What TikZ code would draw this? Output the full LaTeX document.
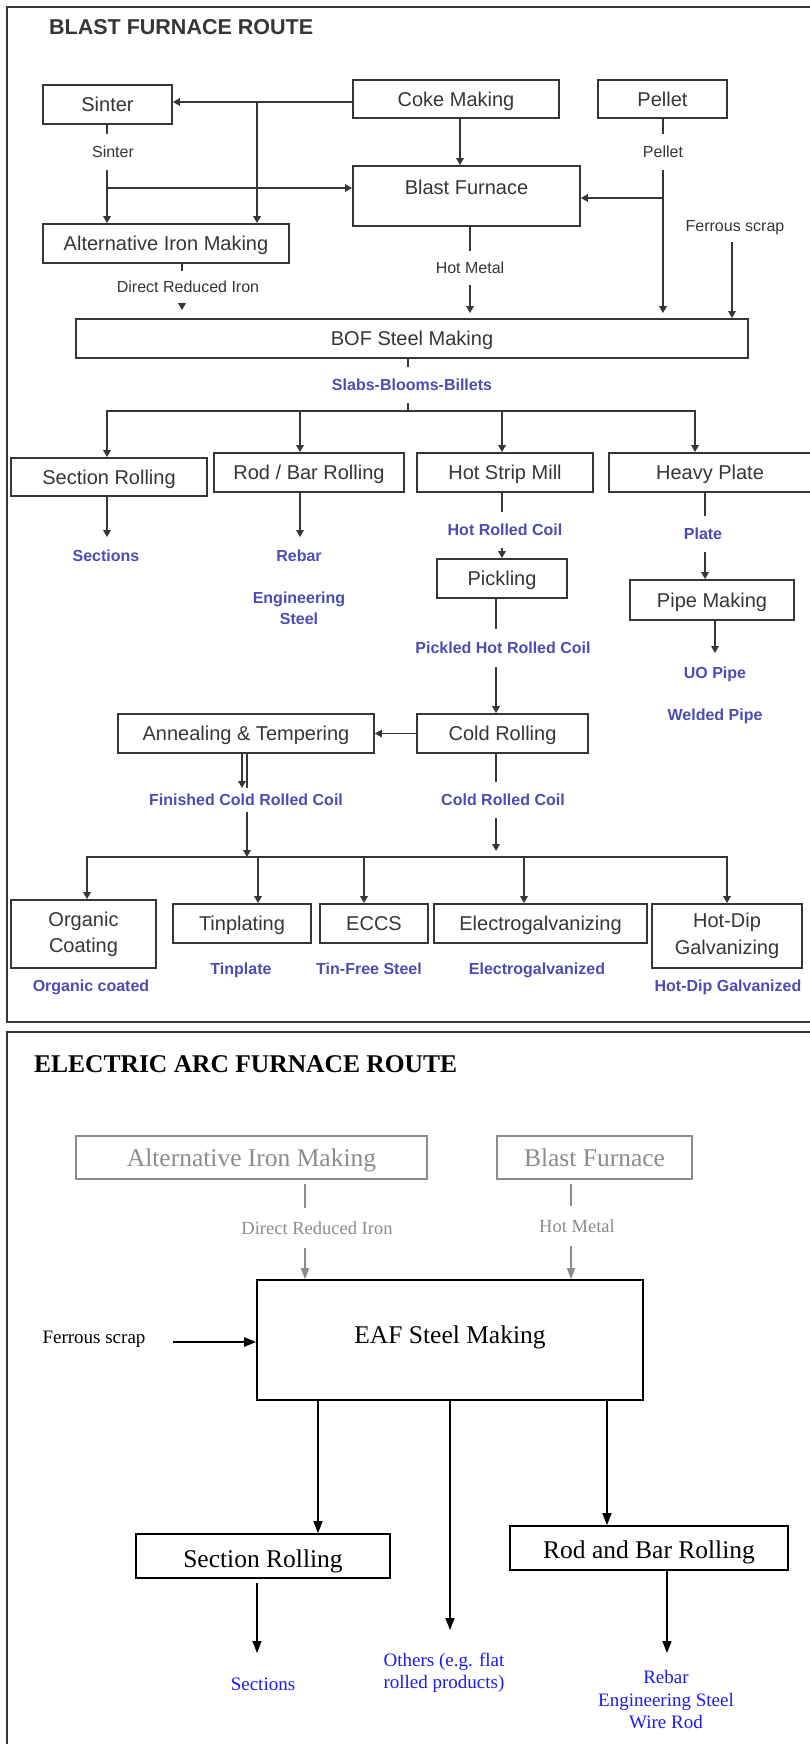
\documentclass[tikz,border=0pt]{standalone}
\usepackage{fontspec}
\setmainfont{Liberation Serif}
\newfontfamily\arialf{Liberation Sans}
\usetikzlibrary{arrows.meta}

\definecolor{ink}{HTML}{363636}
\definecolor{prod}{RGB}{76,76,178}
\definecolor{faded}{HTML}{8C8C8C}
\definecolor{prodblue}{RGB}{28,28,235}

\begin{document}
\begin{tikzpicture}[x=1pt,y=-1pt,
  % blast furnace route (sans serif)
  panel/.style={draw=ink, line width=1.8pt},
  bfbox/.style={draw=ink, line width=1.8pt, text=ink, inner sep=0pt, align=center,
    font=\arialf\fontsize{20}{26}\selectfont},
  bfone/.style={bfbox, text height=14.3pt, text depth=0pt},
  bfline/.style={draw=ink, line width=1.6pt},
  bfarr/.style={bfline, -{Triangle[length=7pt,width=7.5pt]}},
  bfboth/.style={bfline, {Triangle[length=7pt,width=7.5pt]}-{Triangle[length=7pt,width=7.5pt]}},
  bflbl/.style={fill=white, text=ink, inner xsep=1pt, inner ysep=#1,
    text height=11.5pt, text depth=0pt, font=\arialf\fontsize{16}{19}\selectfont},
  bflbl/.default=0pt,
  prodlbl/.style={fill=white, text=prod, inner xsep=1pt, inner ysep=#1,
    text height=11.5pt, text depth=0pt, font=\arialf\bfseries\fontsize{16}{21}\selectfont},
  prodlbl/.default=0pt,
  prodmulti/.style={text=prod, inner sep=0pt, align=center,
    font=\arialf\bfseries\fontsize{16}{21}\selectfont},
  % electric arc furnace route (serif)
  eafbox/.style={draw=black, line width=1.6pt, inner sep=0pt,
    font=\fontsize{25.5}{30}\selectfont, text height=17pt, text depth=0pt},
  fadedbox/.style={draw=faded, line width=1.2pt, text=faded, inner sep=0pt,
    font=\fontsize{25.5}{30}\selectfont, text height=17pt, text depth=0pt},
  fadedarr/.style={draw=faded, line width=1.3pt, -{Triangle[length=11pt,width=8pt]}},
  fadedlbl/.style={fill=white, text=faded, inner xsep=1pt, inner ysep=#1,
    font=\fontsize{18.5}{22}\selectfont, text height=12.2pt, text depth=0pt},
  fadedlbl/.default=0pt,
  eafarr/.style={draw=black, line width=1.6pt, -{Triangle[length=12pt,width=9pt]}},
  prodb/.style={text=prodblue, inner sep=0pt, align=center, font=\fontsize{19}{22.5}\selectfont},
  prodbone/.style={prodb, text height=12.6pt, text depth=0pt}
]
\useasboundingbox (0,0) rectangle (810,1744);
\fill[white] (0,0) rectangle (810,1744);

%% ---------------- Blast furnace route ----------------
\draw[panel] (7,7) rectangle (822,1022);
\node[anchor=west, text=ink, inner sep=0pt, text height=15.4pt, text depth=0pt,
  font=\arialf\bfseries\fontsize{21.5}{26}\selectfont] (bftitle) at (49,26.5) {BLAST FURNACE ROUTE};

% process boxes
\node[bfone, minimum width=129pt, minimum height=39pt] (sinter) at (107.5,104.5) {Sinter};
\node[bfone, minimum width=206pt, minimum height=38pt] (coke) at (456,99) {Coke Making};
\node[bfone, minimum width=129pt, minimum height=38pt] (pellet) at (662.5,99) {Pellet};
\node[bfone, minimum width=227pt, minimum height=60pt, text depth=18pt] (bf) at (466.5,196) {Blast Furnace};
\node[bfone, minimum width=246pt, minimum height=39pt] (aim) at (166,243.5) {Alternative Iron Making};
\node[bfone, minimum width=672pt, minimum height=39pt] (bof) at (412,338.5) {BOF Steel Making};
\node[bfone, minimum width=196pt, minimum height=38pt] (secroll) at (109,477) {Section Rolling};
\node[bfone, minimum width=190pt, minimum height=39pt] (rodbar) at (309,472.5) {Rod / Bar Rolling};
\node[bfone, minimum width=176pt, minimum height=39pt] (hsm) at (505,472.5) {Hot Strip Mill};
\node[bfone, minimum width=202pt, minimum height=39pt] (heavy) at (710,472.5) {Heavy Plate};
\node[bfone, minimum width=130pt, minimum height=39pt] (pickling) at (502,578.5) {Pickling};
\node[bfone, minimum width=164pt, minimum height=40pt] (pipe) at (712,600) {Pipe Making};
\node[bfone, minimum width=171pt, minimum height=39pt] (cold) at (502.5,733.5) {Cold Rolling};
\node[bfone, minimum width=256pt, minimum height=39pt] (anneal) at (246,733.5) {Annealing \& Tempering};
\node[bfbox, minimum width=145pt, minimum height=68pt] (organic) at (83.5,934) {Organic\\Coating};
\node[bfone, minimum width=138pt, minimum height=39pt] (tinpl) at (242,923.5) {Tinplating};
\node[bfone, minimum width=108pt, minimum height=39pt] (eccs) at (374,923.5) {ECCS};
\node[bfone, minimum width=213pt, minimum height=39pt] (electro) at (540.5,923.5) {Electrogalvanizing};
\node[bfbox, minimum width=150pt, minimum height=64pt, font=\arialf\fontsize{20}{27}\selectfont] (hotdip) at (727,936) {Hot-Dip\\Galvanizing};

% junctions and drop lines
\coordinate (jcoke) at (257,102);
\coordinate (jsint) at (107,188);
\coordinate (jpell) at (663,198);
\coordinate (xcoke) at (460,0);
\coordinate (xhm) at (470,0);
\coordinate (xdri) at (182,0);
\coordinate (tscrap) at (732,242);
\coordinate (jslab) at (408,411);
\coordinate (dsec) at (107,411);
\coordinate (drod) at (300,411);
\coordinate (dhsm) at (502,411);
\coordinate (dplate) at (695,411);
\coordinate (xpick) at (496,0);
\coordinate (xplate) at (705,0);
\coordinate (jcrc) at (496,857);
\coordinate (jfcrc) at (247,857);
\coordinate (xann) at (242,0);
\coordinate (dorg) at (87,857);
\coordinate (dtin) at (258,857);
\coordinate (deccs) at (364,857);
\coordinate (delec) at (524,857);
\coordinate (dhot) at (727,857);

% raw materials into iron making
\draw[bfarr] (coke.west |- jcoke) -- (sinter.east |- jcoke);
\draw[bfarr] (jcoke) -- (jcoke |- aim.north);
\draw[bfarr] (coke.south -| xcoke) -- (bf.north -| xcoke);
\draw[bfarr] (sinter.south -| jsint) -- (jsint |- aim.north);
\draw[bfarr] (jsint) -- (bf.west |- jsint);
\draw[bfarr, shorten >=5pt] (pellet.south -| jpell) -- (jpell |- bof.north);
\draw[bfarr] (jpell) -- (bf.east |- jpell);
\draw[bfarr] (tscrap) -- (tscrap |- bof.north);
\draw[bfarr, shorten >=5pt] (bf.south -| xhm) -- (bof.north -| xhm);
\draw[bfarr, shorten >=8pt] (aim.south -| xdri) -- (bof.north -| xdri);

% semi-finished products to the mills
\draw[bfline] (bof.south -| jslab) -- (jslab);
\draw[bfboth] (secroll.north -| dsec) -- (dsec) -- (dplate) -- (heavy.north -| dplate);
\draw[bfarr] (drod) -- (rodbar.north -| drod);
\draw[bfarr] (dhsm) -- (hsm.north -| dhsm);

% flat and plate routes
\draw[bfarr] (hsm.south -| dhsm) -- (pickling.north -| dhsm);
\draw[bfarr] (pickling.south -| xpick) -- (cold.north -| xpick);
\draw[bfarr] (heavy.south -| xplate) -- (pipe.north -| xplate);
\draw[bfarr] (cold.west) -- (anneal.east);
\draw[bfarr, shorten >=6pt] (cold.south -| jcrc) -- (jcrc);
\draw[bfarr] (anneal.south -| jfcrc) -- (jfcrc);

% coating lines
\draw[bfboth] (organic.north -| dorg) -- (dorg) -- (dhot) -- (hotdip.north -| dhot);
\draw[bfarr] (dtin) -- (tinpl.north -| dtin);
\draw[bfarr] (deccs) -- (eccs.north -| deccs);
\draw[bfarr] (delec) -- (electro.north -| delec);

% flow labels (drawn over the lines they interrupt)
\node[bflbl=12pt] (lsinter) at (113,152) {Sinter};
\node[bflbl=12pt] (lpellet) at (663,152) {Pellet};
\node[bflbl=11pt] (lhm) at (470,268) {Hot Metal};
\node[bflbl=10.5pt] (ldri) at (188,287) {Direct Reduced Iron};
\node[bflbl] (lscrap) at (735,226) {Ferrous scrap};
\node[prodlbl=12.5pt] (lslab) at (412,385) {Slabs-Blooms-Billets};
\node[prodlbl=12pt] (lhrc) at (505,530) {Hot Rolled Coil};
\node[prodlbl=13pt] (lphrc) at (503,648) {Pickled Hot Rolled Coil};
\node[prodlbl=12pt] (lplate) at (703,534) {Plate};
\node[prodlbl=12pt] (lcrc) at (503,800) {Cold Rolled Coil};
\node[prodlbl=6pt] (lfcrc) at (246,800) {Finished Cold Rolled Coil};
\draw[bfarr] (anneal.south -| xann) -- (lfcrc.north -| xann);

% products
\node[prodlbl] (lsections) at (106,556) {Sections};
\node[prodlbl] (lrebar) at (299,556) {Rebar};
\node[prodmulti] (lengsteel) at (299,608.5) {Engineering\\Steel};
\node[prodlbl] (luo) at (715,673) {UO Pipe};
\node[prodlbl] (lwelded) at (715,715) {Welded Pipe};
\draw[bfarr, shorten >=13pt] (secroll.south -| dsec) -- (lsections.north -| dsec);
\draw[bfarr, shorten >=13pt] (rodbar.south -| drod) -- (lrebar.north -| drod);
\draw[bfarr, shorten >=14pt] (pipe.south -| luo) -- (luo.north);
\node[prodlbl] (lorg) at (91,986) {Organic coated};
\node[prodlbl] (ltin) at (241,969) {Tinplate};
\node[prodlbl] (ltfs) at (369,969) {Tin-Free Steel};
\node[prodlbl] (lelec) at (537,969) {Electrogalvanized};
\node[prodlbl] (lhdg) at (728,986) {Hot-Dip Galvanized};

%% ---------------- Electric arc furnace route ----------------
\draw[draw=ink, line width=1.8pt] (7,1032) rectangle (822,1760);
\node[anchor=west, inner sep=0pt, text height=17pt, text depth=0pt,
  font=\bfseries\fontsize{25.5}{30}\selectfont] (eaftitle) at (34,1063.5) {ELECTRIC ARC FURNACE ROUTE};

\node[fadedbox, minimum width=351pt, minimum height=43pt] (aim2) at (251.5,1157.5) {Alternative Iron Making};
\node[fadedbox, minimum width=195pt, minimum height=43pt] (bf2) at (594.5,1157.5) {Blast Furnace};
\node[eafbox, minimum width=386pt, minimum height=120pt, text depth=10pt] (eaf) at (450,1340) {EAF Steel Making};
\node[eafbox, minimum width=254pt, minimum height=44pt, text height=23pt] (secroll2) at (263,1556) {Section Rolling};
\node[eafbox, minimum width=278pt, minimum height=44pt, text height=21pt] (rodbar2) at (649,1548) {Rod and Bar Rolling};

\coordinate (xdri2) at (305,0);
\coordinate (xhm2) at (571,0);
\coordinate (xsec2) at (318,0);
\coordinate (xrod2) at (607,0);
\coordinate (toth) at (450,1630);
\coordinate (tsec) at (257,1653);
\coordinate (trod) at (667,1653);

\draw[fadedarr, shorten <=4pt] (aim2.south -| xdri2) -- (eaf.north -| xdri2);
\draw[fadedarr, shorten <=4pt] (bf2.south -| xhm2) -- (eaf.north -| xhm2);
\node[fadedlbl=13.5pt] (ldri2) at (317,1228) {Direct Reduced Iron};
\node[fadedlbl=13.5pt] (lhm2) at (577,1226) {Hot Metal};

\node[inner sep=0pt, text height=12.6pt, text depth=0pt, font=\fontsize{19}{22}\selectfont] (lscrap2) at (94,1337) {Ferrous scrap};
\draw[eafarr, line width=2.2pt, shorten <=27pt] ([yshift=-5pt]lscrap2.east) -- ([yshift=-2pt]eaf.west);

\draw[eafarr] (eaf.south -| xsec2) -- (secroll2.north -| xsec2);
\draw[eafarr] (eaf.south -| xrod2) -- (rodbar2.north -| xrod2);
\draw[eafarr] (eaf.south -| toth) -- (toth);
\draw[eafarr, shorten <=4pt] (secroll2.south -| tsec) -- (tsec);
\draw[eafarr] (rodbar2.south -| trod) -- (trod);

\node[prodbone] (lsec2) at (263,1684) {Sections};
\node[prodb] (lothers) at (444,1673) {Others (e.g. flat\\rolled products)};
\node[prodb] (lrod2) at (666,1700) {Rebar\\Engineering Steel\\Wire Rod};
\end{tikzpicture}
\end{document}
